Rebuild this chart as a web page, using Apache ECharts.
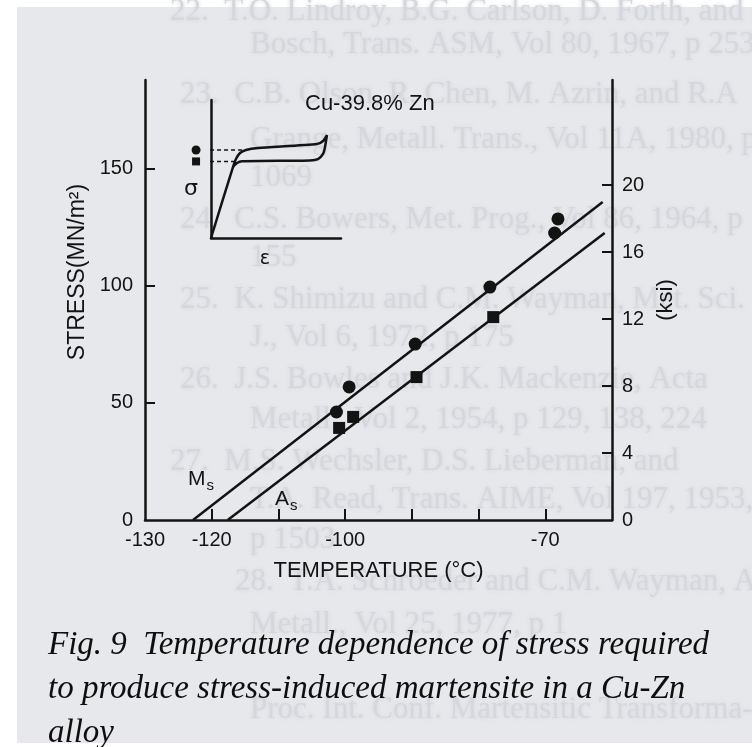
<!DOCTYPE html>
<html>
<head>
<meta charset="utf-8">
<script src="https://cdn.jsdelivr.net/npm/echarts@6/dist/echarts.min.js"></script>
<style>
  html, body { margin: 0; padding: 0; background: #ffffff; }
  #chart { width: 752px; height: 747px; }
</style>
</head>
<body>
<div id="chart"></div>
<script>
// Ms: stress (MN/m²) needed to form martensite at each test temperature (°C)
const msTemps  = [-101.3, -99.4, -89.5, -78.3, -68.6, -68.1];
const msStress = [46.1, 56.8, 75.1, 99.4, 122.5, 128.5];
// As: stress at which the reverse transformation starts
const asTemps  = [-100.9, -98.8, -89.3, -77.8];
const asStress = [39.3, 44.0, 61.0, 86.6];
// straight-line fits through each set (end points)
const msFitTemps  = [-122.8, -61.4];
const msFitStress = [0, 135.7];
const asFitTemps  = [-117.6, -61.1];
const asFitStress = [0, 122.5];
// axis ticks and labels
const tempTickValues  = [-120, -110, -100, -90, -80, -70];
const tempLabelValues = [-130, -120, -100, -70];
const stressLabelValues = [0, 50, 100, 150];
const ksiLabelValues    = [0, 4, 8, 12, 16, 20];
// schematic stress-strain loop for the inset (arbitrary units)
const loopStrain = [0, 1.69, 1.92, 2.23, 2.69, 3.62, 8.15, 8.62, 8.92, 8.77, 8.62, 8.23, 7.62, 2.38, 2.0, 1.69];
const loopStress = [0, 5.14, 5.72, 6.16, 6.38, 6.52, 6.81, 7.03, 7.46, 6.59, 6.09, 5.72, 5.62, 5.56, 5.43, 5.14];
// critical stresses marked on the inset (upper: Ms, lower: As)
const insetMarkStrain = -1.15;
const insetMsLevel = 6.38;
const insetAsLevel = 5.55;
const insetMsReach = 2.5;
const insetAsReach = 2.0;

const ink = '#131313';
const sans = 'Liberation Sans, Arial, sans-serif';

const zip = (xs, ys) => xs.map((x, i) => [x, ys[i]]);

// faint type showing through from the facing page
const showThrough = [
  ['22.  T.O. Lindroy, B.G. Carlson, D. Forth, and R.', 170, 12],
  ['Bosch, Trans. ASM, Vol 80, 1967, p 253', 250, 45],
  ['23.  C.B. Olson, R. Chen, M. Azrin, and R.A', 180, 95],
  ['Grange, Metall. Trans., Vol 11A, 1980, p', 250, 140],
  ['1069', 250, 178],
  ['24.  C.S. Bowers, Met. Prog., Vol 86, 1964, p', 180, 220],
  ['155', 250, 258],
  ['25.  K. Shimizu and C.M. Wayman, Met. Sci.', 180, 300],
  ['J., Vol 6, 1972, p 175', 250, 338],
  ['26.  J.S. Bowles and J.K. Mackenzie, Acta', 180, 380],
  ['Metall., Vol 2, 1954, p 129, 138, 224', 250, 420],
  ['27.  M.S. Wechsler, D.S. Lieberman, and', 170, 462],
  ['T.A. Read, Trans. AIME, Vol 197, 1953,', 250, 500],
  ['p 1503', 250, 540],
  ['28.  T.A. Schroeder and C.M. Wayman, Acta', 235, 582],
  ['Metall., Vol 25, 1977, p 1', 250, 625],
  ['Proc. Int. Conf. Martensitic Transforma-', 250, 710]
];

const captionLines = [
  'Fig. 9  Temperature dependence of stress required',
  'to produce stress-induced martensite in a Cu-Zn',
  'alloy'
];

const graphics = [
  { type: 'rect', z: -10, silent: true,
    shape: { x: 17, y: 7, width: 740, height: 736 },
    style: { fill: '#e6e8ec' } }
];
showThrough.forEach(([t, x, y]) => graphics.push({
  type: 'text', z: -9, silent: true, x: x, y: y,
  style: {
    text: t, fill: '#d5d7dc', font: '31px "Liberation Serif", serif', textVerticalAlign: 'middle',
    textShadowColor: '#d5d7dc', textShadowBlur: 4
  }
}));
captionLines.forEach((t, i) => graphics.push({
  type: 'text', z: 5, x: 48, y: 645 + i * 44,
  style: { text: t, fill: '#0e0e0e', font: 'italic 33px "Liberation Serif", serif', textVerticalAlign: 'middle' }
}));
// curve labels M_s and A_s
graphics.push({
  type: 'text', z: 5, x: 188, y: 466,
  style: { text: '{b|M}{s|s}', rich: { b: { fontFamily: sans, fontSize: 21, fill: ink }, s: { fontFamily: sans, fontSize: 15, fill: ink, padding: [12, 0, 0, 1] } } }
});
graphics.push({
  type: 'text', z: 5, x: 275, y: 486,
  style: { text: '{b|A}{s|s}', rich: { b: { fontFamily: sans, fontSize: 21, fill: ink }, s: { fontFamily: sans, fontSize: 15, fill: ink, padding: [12, 0, 0, 1] } } }
});
// stress symbol beside the inset's vertical axis
graphics.push({
  type: 'text', z: 5, x: 184, y: 178,
  style: { text: 'σ', fill: ink, font: '22px "DejaVu Sans", sans-serif' }
});

const chart = echarts.init(document.getElementById('chart'));
chart.setOption({
  backgroundColor: '#ffffff',
  animation: false,
  title: {
    text: 'Cu-39.8% Zn', left: 300, top: 88,
    textStyle: { fontFamily: sans, fontSize: 22, fontWeight: 'normal', color: ink }
  },
  graphic: graphics,
  grid: [
    { left: 145, right: 140, top: 80, bottom: 227 },
    { left: 211, top: 100, width: 130, height: 138 }
  ],
  xAxis: [
    {
      gridIndex: 0, type: 'value', min: -130, max: -60,
      name: 'TEMPERATURE (°C)', nameLocation: 'middle', nameGap: 40,
      nameTextStyle: { fontFamily: sans, fontSize: 22, color: ink },
      axisLine: { show: true, onZero: false, lineStyle: { color: ink, width: 2.5 } },
      axisTick: { show: true, inside: true, length: 11, lineStyle: { color: ink, width: 2 }, customValues: tempTickValues },
      axisLabel: { margin: 10, fontFamily: sans, fontSize: 20, color: ink, customValues: tempLabelValues },
      splitLine: { show: false }
    },
    {
      gridIndex: 1, type: 'value', min: 0, max: 10,
      name: 'ε', nameLocation: 'middle', nameGap: 12,
      nameTextStyle: { fontFamily: 'DejaVu Sans, sans-serif', fontSize: 19, color: ink, padding: [0, 22, 0, 0] },
      axisLine: { show: true, onZero: false, lineStyle: { color: ink, width: 2.5 } },
      axisTick: { show: false }, axisLabel: { show: false }, splitLine: { show: false }
    }
  ],
  yAxis: [
    {
      gridIndex: 0, type: 'value', min: 0, max: 187.8, position: 'left',
      name: 'STRESS(MN/m²)', nameLocation: 'middle', nameRotate: 90, nameGap: 55,
      nameTextStyle: { fontFamily: sans, fontSize: 23, color: ink, padding: [0, 0, 0, 56] },
      axisLine: { show: true, onZero: false, lineStyle: { color: ink, width: 2.5 } },
      axisTick: { show: true, inside: true, length: 10, lineStyle: { color: ink, width: 2 }, customValues: stressLabelValues.slice(1) },
      axisLabel: { margin: 12, fontFamily: sans, fontSize: 20, color: ink, customValues: stressLabelValues },
      splitLine: { show: false }
    },
    {
      gridIndex: 0, type: 'value', min: 0, max: 26.27, position: 'right',
      name: '(ksi)', nameLocation: 'middle', nameRotate: 90, nameGap: 41,
      nameTextStyle: { fontFamily: sans, fontSize: 22, color: ink },
      axisLine: { show: true, onZero: false, lineStyle: { color: ink, width: 2.5 } },
      axisTick: { show: true, inside: true, length: 10, lineStyle: { color: ink, width: 2 }, customValues: ksiLabelValues.slice(1) },
      axisLabel: { margin: 10, fontFamily: sans, fontSize: 20, color: ink, customValues: ksiLabelValues },
      splitLine: { show: false }
    },
    {
      gridIndex: 1, type: 'value', min: 0, max: 10,
      axisLine: { show: true, onZero: false, lineStyle: { color: ink, width: 2.5 } },
      axisTick: { show: false }, axisLabel: { show: false }, splitLine: { show: false }
    }
  ],
  series: [
    {
      name: 'Ms fit', type: 'line', xAxisIndex: 0, yAxisIndex: 0,
      data: zip(msFitTemps, msFitStress), symbol: 'none',
      lineStyle: { color: ink, width: 2.5 }
    },
    {
      name: 'As fit', type: 'line', xAxisIndex: 0, yAxisIndex: 0,
      data: zip(asFitTemps, asFitStress), symbol: 'none',
      lineStyle: { color: ink, width: 2.5 }
    },
    {
      name: 'Ms', type: 'scatter', xAxisIndex: 0, yAxisIndex: 0,
      data: zip(msTemps, msStress), symbol: 'circle', symbolSize: 13,
      itemStyle: { color: ink, opacity: 1 }
    },
    {
      name: 'As', type: 'scatter', xAxisIndex: 0, yAxisIndex: 0,
      data: zip(asTemps, asStress), symbol: 'rect', symbolSize: 12,
      itemStyle: { color: ink, opacity: 1 }
    },
    {
      name: 'loop', type: 'line', xAxisIndex: 1, yAxisIndex: 2,
      data: zip(loopStrain, loopStress), symbol: 'none', smooth: 0.2,
      lineStyle: { color: ink, width: 2.5 }
    },
    {
      name: 'Ms level', type: 'line', xAxisIndex: 1, yAxisIndex: 2, clip: false,
      data: [[insetMarkStrain, insetMsLevel], [insetMsReach, insetMsLevel]], symbol: 'none',
      lineStyle: { color: ink, width: 1.5, type: [4, 3] }
    },
    {
      name: 'As level', type: 'line', xAxisIndex: 1, yAxisIndex: 2, clip: false,
      data: [[insetMarkStrain, insetAsLevel], [insetAsReach, insetAsLevel]], symbol: 'none',
      lineStyle: { color: ink, width: 1.5, type: [4, 3] }
    },
    {
      name: 'Ms mark', type: 'scatter', xAxisIndex: 1, yAxisIndex: 2, clip: false,
      data: [[insetMarkStrain, insetMsLevel]], symbol: 'circle', symbolSize: 9,
      itemStyle: { color: ink, opacity: 1 }
    },
    {
      name: 'As mark', type: 'scatter', xAxisIndex: 1, yAxisIndex: 2, clip: false,
      data: [[insetMarkStrain, insetAsLevel]], symbol: 'rect', symbolSize: 8,
      itemStyle: { color: ink, opacity: 1 }
    }
  ]
});
</script>
</body>
</html>
